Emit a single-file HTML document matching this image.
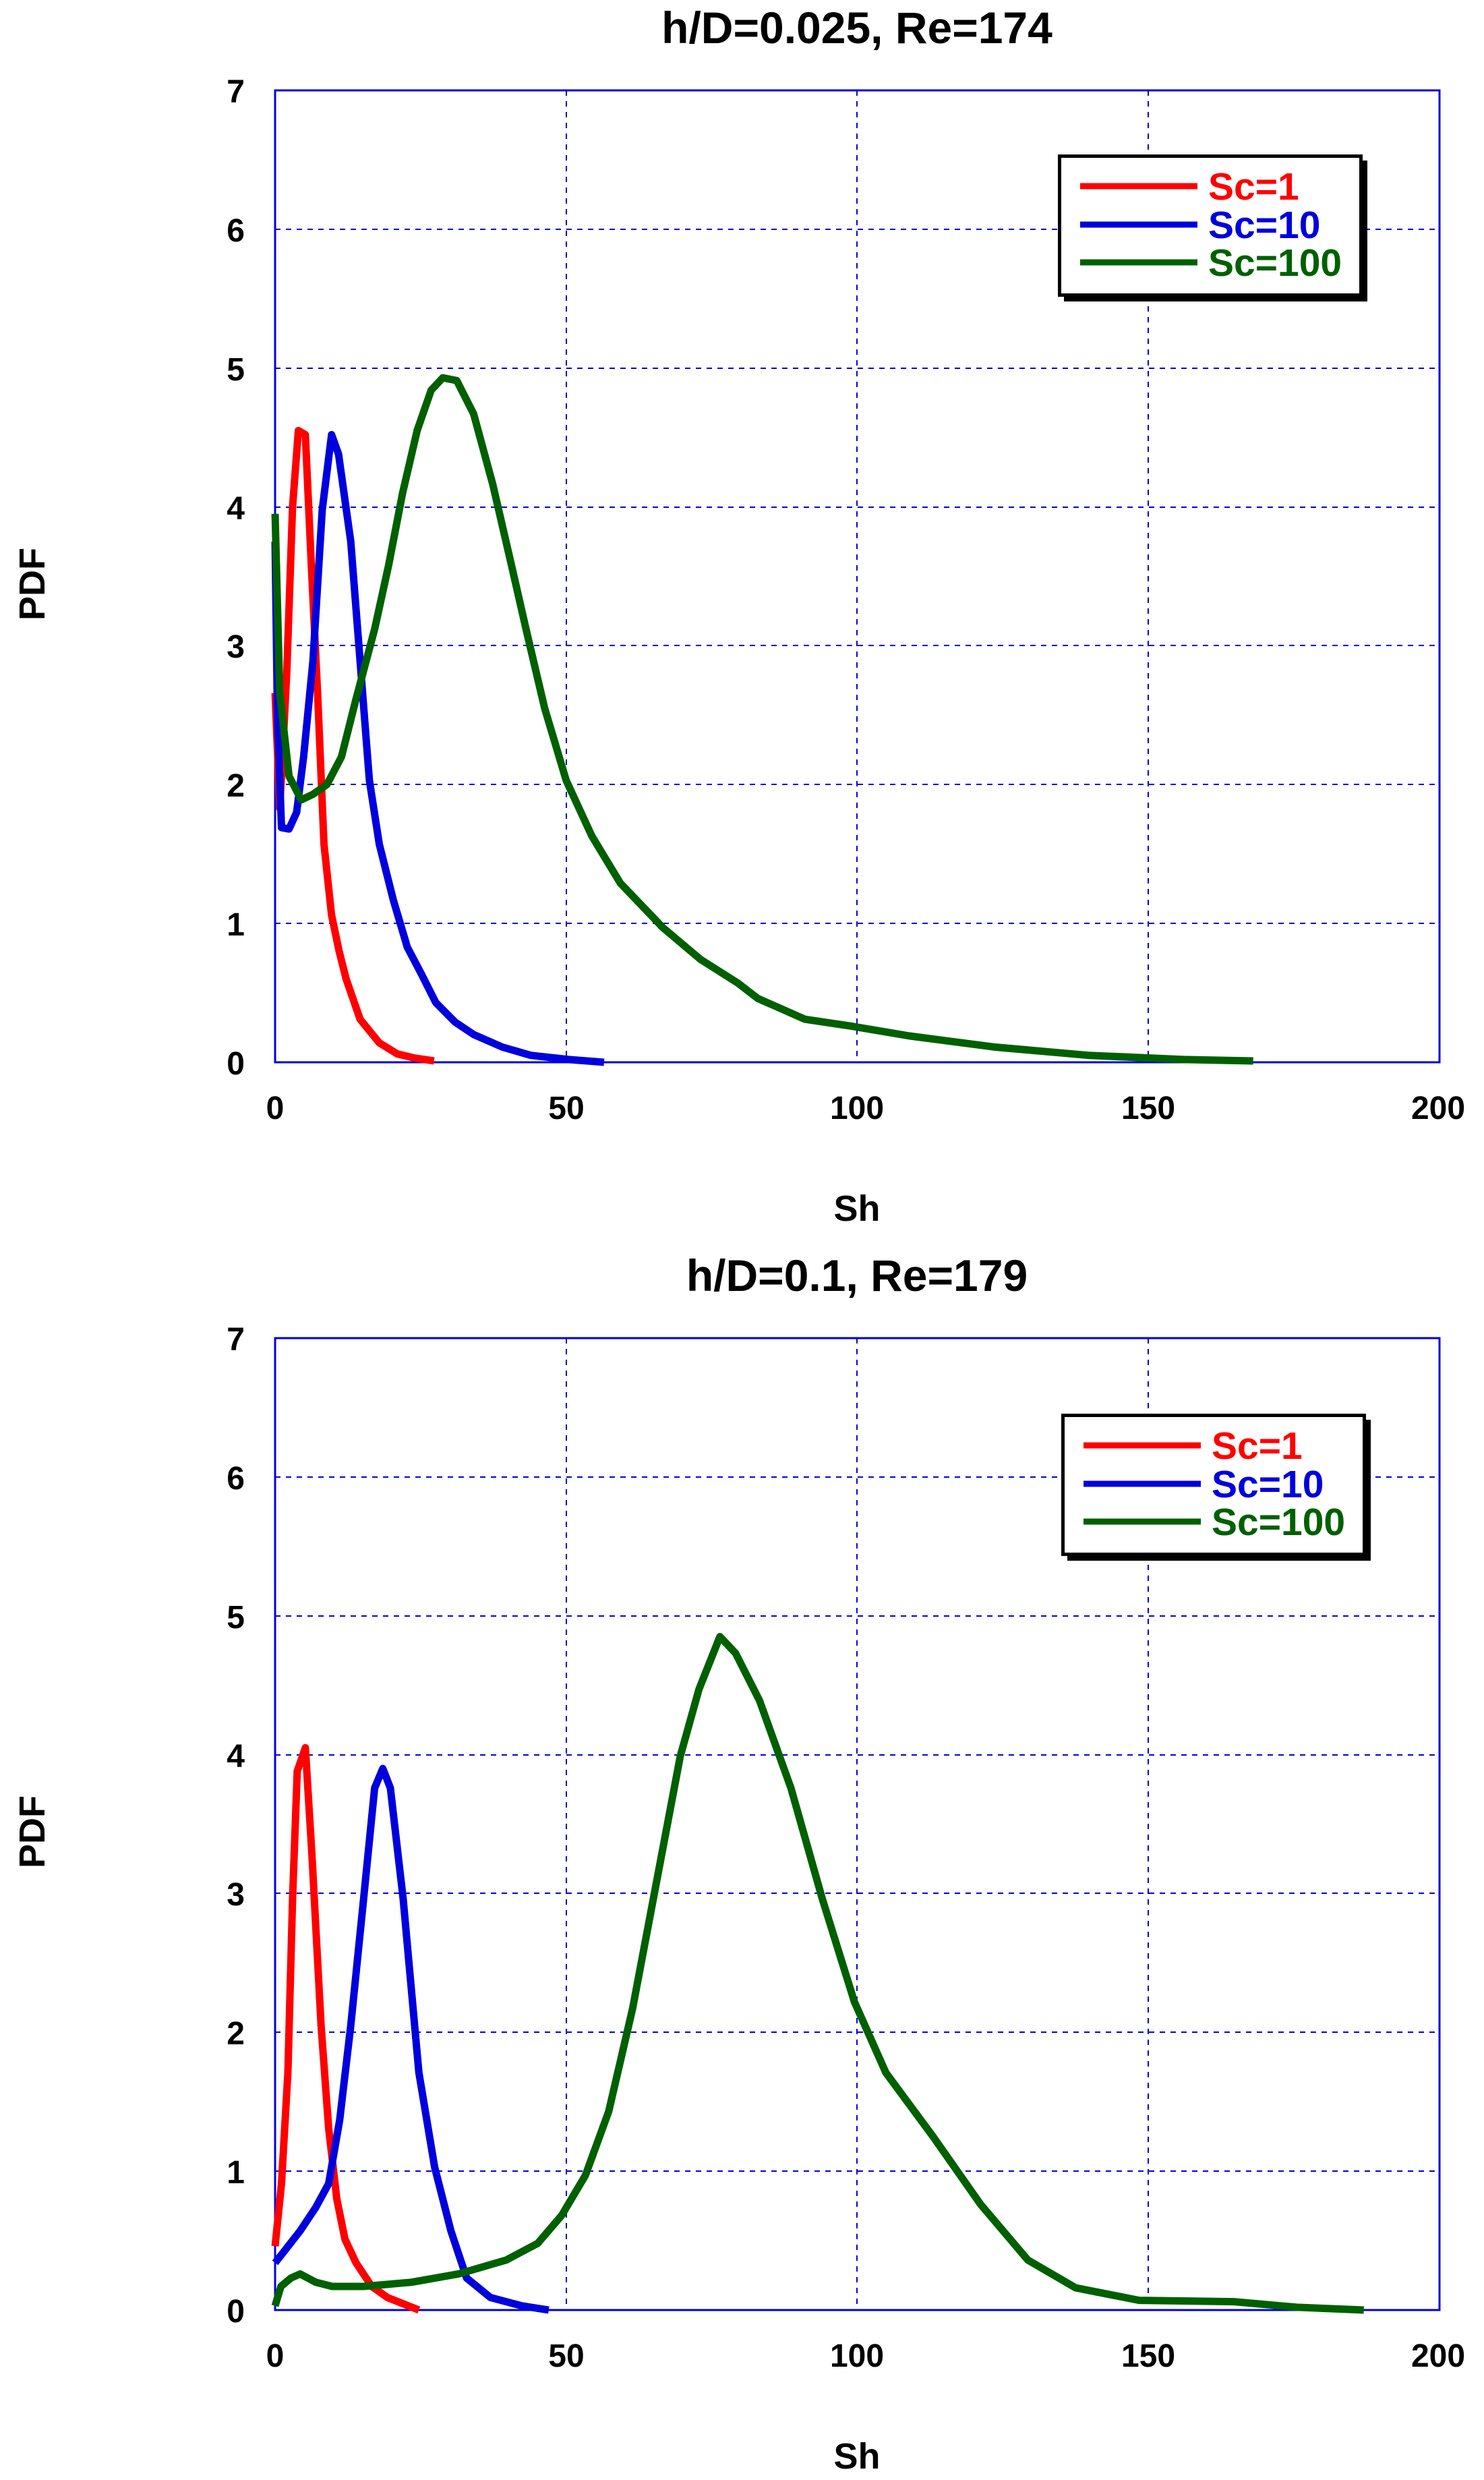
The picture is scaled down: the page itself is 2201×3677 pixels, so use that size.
<!DOCTYPE html>
<html><head><meta charset="utf-8"><style>
html,body{margin:0;padding:0;background:#fff;}
svg{display:block;font-family:"Liberation Sans",Arial,sans-serif;font-weight:bold;}
</style></head><body>
<svg width="2201" height="3677" viewBox="0 0 2201 3677" xmlns="http://www.w3.org/2000/svg">
<defs>
<g id="frame">
  <g stroke="#0000dd" stroke-width="2" stroke-dasharray="8,8" fill="none">
    <line x1="840" y1="134" x2="840" y2="1575"/>
    <line x1="1271" y1="134" x2="1271" y2="1575"/>
    <line x1="1703" y1="134" x2="1703" y2="1575"/>
    <line x1="408" y1="340" x2="2135" y2="340"/>
    <line x1="408" y1="546" x2="2135" y2="546"/>
    <line x1="408" y1="752" x2="2135" y2="752"/>
    <line x1="408" y1="957" x2="2135" y2="957"/>
    <line x1="408" y1="1163" x2="2135" y2="1163"/>
    <line x1="408" y1="1369" x2="2135" y2="1369"/>
  </g>
  <rect x="408" y="134" width="1727" height="1441" fill="none" stroke="#0000dd" stroke-width="3"/>
  <g font-size="48" fill="#000" text-anchor="end">
    <text x="363" y="152">7</text><text x="363" y="358">6</text><text x="363" y="564">5</text>
    <text x="363" y="770">4</text><text x="363" y="975">3</text><text x="363" y="1181">2</text>
    <text x="363" y="1387">1</text><text x="363" y="1593">0</text>
  </g>
  <g font-size="48" fill="#000" text-anchor="middle">
    <text x="408" y="1659">0</text><text x="840" y="1659">50</text><text x="1271" y="1659">100</text>
    <text x="1703" y="1659">150</text><text x="2133" y="1659">200</text>
  </g>
  <text x="1271" y="1810" font-size="54" text-anchor="middle">Sh</text>
  <text transform="translate(66,866) rotate(-90)" font-size="54" text-anchor="middle">PDF</text>
</g>
<g id="legend">
  <polygon points="1578,238 2028,238 2028,447 1578,447" fill="#000"/>
  <rect x="1571.5" y="231.5" width="447" height="206" fill="#fff" stroke="#000" stroke-width="5"/>
  <g stroke-width="9">
    <line x1="1602" y1="276" x2="1776" y2="276" stroke="#ff0000"/>
    <line x1="1602" y1="333" x2="1776" y2="333" stroke="#0000dd"/>
    <line x1="1602" y1="389" x2="1776" y2="389" stroke="#006000"/>
  </g>
  <g font-size="57">
    <text x="1792" y="296" fill="#ff0000">Sc=1</text>
    <text x="1792" y="353" fill="#0000dd">Sc=10</text>
    <text x="1792" y="409" fill="#006000">Sc=100</text>
  </g>
</g>
</defs>

<text x="1271" y="64" font-size="66" text-anchor="middle">h/D=0.025, Re=174</text>
<use href="#frame"/>
<use href="#legend"/>
<g transform="translate(408,1575) scale(8.635,-205.86)" fill="none" stroke-width="11" stroke-linejoin="round" stroke-linecap="butt">
  <polyline vector-effect="non-scaling-stroke" stroke="#ff0000" points="0,2.66 0.8,1.83 2,2.8 3,4.0 4,4.55 5.2,4.52 6.2,3.6 7.3,2.66 8.4,1.57 9.7,1.06 11,0.8 12.2,0.6 14.6,0.31 17.9,0.14 21,0.06 24,0.03 27.3,0.01"/>
  <polyline vector-effect="non-scaling-stroke" stroke="#0000dd" points="0,3.75 0.4,2.5 1.1,1.69 2.4,1.68 3.7,1.8 4.9,2.2 6.5,2.89 8.1,3.98 9.7,4.52 10.9,4.38 13,3.75 14.6,2.89 16.2,2.03 17.9,1.57 20.3,1.17 22.7,0.83 25.2,0.63 27.6,0.43 30.9,0.29 34.1,0.2 39,0.11 43.9,0.05 50.4,0.02 56.5,0"/>
  <polyline vector-effect="non-scaling-stroke" stroke="#006000" points="0,3.95 0.8,2.66 2.4,2.06 4.5,1.89 6.5,1.93 8.9,2.0 11.4,2.2 13.8,2.6 17.1,3.12 19.5,3.58 21.9,4.1 24.4,4.55 26.8,4.84 28.8,4.93 31.2,4.91 34.1,4.67 37.4,4.16 40.6,3.58 43.1,3.12 46.3,2.55 50,2.03 54.4,1.63 59.3,1.29 66.6,0.97 73.1,0.74 79.5,0.57 82.9,0.46 91,0.31 99,0.26 108.9,0.19 123.5,0.11 139.7,0.05 156,0.02 168,0.01"/>
</g>

<text x="1271" y="1914" font-size="66" text-anchor="middle">h/D=0.1, Re=179</text>
<use href="#frame" transform="translate(0,1850)"/>
<use href="#legend" transform="translate(5,1867)"/>
<g transform="translate(408,3425) scale(8.635,-205.86)" fill="none" stroke-width="11" stroke-linejoin="round" stroke-linecap="butt">
  <polyline vector-effect="non-scaling-stroke" stroke="#ff0000" points="0,0.46 1.1,0.91 2.2,1.71 3,2.96 3.8,3.88 5.2,4.05 6.3,3.3 7.9,2.05 9.2,1.31 10.6,0.8 12,0.51 13.9,0.34 16.6,0.17 19.3,0.09 24.7,0"/>
  <polyline vector-effect="non-scaling-stroke" stroke="#0000dd" points="0,0.34 1.5,0.42 4.3,0.57 7,0.74 9.2,0.91 11.1,1.37 13,2.05 15.2,2.96 17.1,3.76 18.5,3.9 19.8,3.76 22,2.96 24.7,1.71 27.4,1.03 30.2,0.57 32.9,0.23 37,0.09 42.4,0.03 47,0"/>
  <polyline vector-effect="non-scaling-stroke" stroke="#006000" points="0,0.03 1,0.17 2.7,0.23 4.3,0.26 7,0.2 9.8,0.17 15.2,0.17 23.4,0.2 31.5,0.26 39.7,0.36 45.1,0.48 49.2,0.68 53.3,0.97 57.3,1.43 61.4,2.17 65.5,3.08 69.6,3.99 72.8,4.47 76.4,4.85 79.1,4.73 83.2,4.39 88.6,3.76 94,2.96 99.5,2.22 104.9,1.71 113,1.25 121.2,0.76 129.3,0.36 137.5,0.16 148.4,0.07 164.7,0.06 175.5,0.02 187,0"/>
</g>
</svg>
</body></html>
